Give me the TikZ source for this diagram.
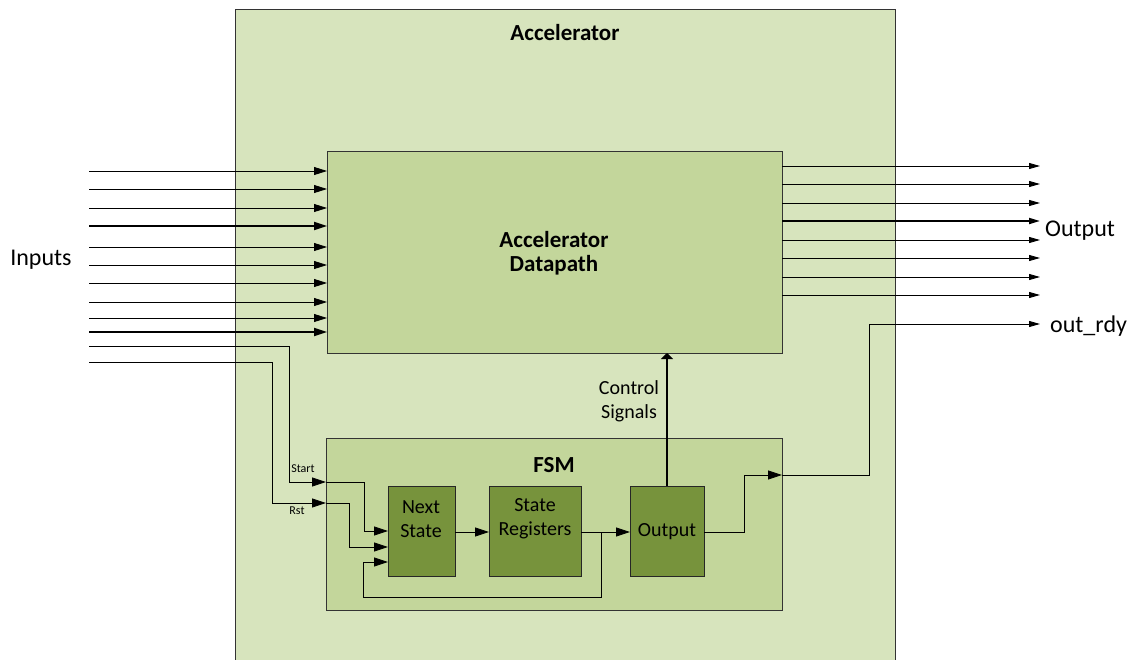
\documentclass[tikz,border=0pt]{standalone}
\usepackage{fontspec}
\setmainfont{Carlito}
\usetikzlibrary{arrows.meta}
\definecolor{outerg}{HTML}{D7E4BD}
\definecolor{midg}{HTML}{C3D69B}
\definecolor{darkg}{HTML}{77933C}
\begin{document}
\begin{tikzpicture}[x=1pt,y=-1pt,
 accbox/.style={draw=black!80, fill=outerg, line width=0.8pt, anchor=north west, inner sep=0pt, outer sep=0pt},
 midbox/.style={draw=black!80, fill=midg, line width=0.8pt, anchor=north west, inner sep=0pt, outer sep=0pt},
 regbox/.style={draw=black!85, fill=darkg, line width=0.8pt, anchor=north west, inner sep=0pt, outer sep=0pt},
 wire/.style={line width=0.8pt},
 bus/.style={line width=1.8pt},
 inarr/.style={-{Triangle[length=13pt,width=8pt]}},
 outarr/.style={-{Triangle[length=11pt,width=6pt]}},
 fsmarr/.style={-{Triangle[length=14pt,width=9pt]}},
 ctlarr/.style={-{Triangle[length=6pt,width=12pt]}},
 lbl/.style={font=\fontsize{24}{24}\selectfont, inner sep=0pt, yshift=-2pt},
 blbl/.style={font=\fontsize{23}{24}\selectfont\bfseries, inner sep=0pt, align=center, yshift=-1pt},
 rlbl/.style={font=\fontsize{20}{24}\selectfont, inner sep=0pt, align=center},
 slbl/.style={font=\fontsize{12}{12}\selectfont, inner sep=0pt},
]
\useasboundingbox (0,0) rectangle (1130,659);
% boxes
\node[accbox, minimum width=660pt, minimum height=660pt] (acc) at (235,9) {};
\node[midbox, minimum width=455pt, minimum height=202pt] (dp) at (327,151) {};
\node[midbox, minimum width=456pt, minimum height=172pt] (fsm) at (326,438) {};
\node[regbox, minimum width=67pt, minimum height=90pt] (ns) at (388,486) {};
\node[regbox, minimum width=92pt, minimum height=90pt] (sr) at (489,486) {};
\node[regbox, minimum width=74pt, minimum height=90pt] (ob) at (630,486) {};
% labels
\node[blbl] (tacc) at (565,32) {Accelerator};
\node[blbl] (tdp) at (554,252) {Accelerator\\Datapath};
\node[blbl] (tfsm) at (554,464) {FSM};
\node[rlbl] (tns) at (421,519) {Next\\State};
\node[rlbl] (tsr) at (535,519) {State\\Registers};
\node[rlbl] (tob) at (667,532) {Output};
\node[lbl] (tin) at (41,258) {Inputs};
\node[lbl, anchor=west] (tout) at (1045,229) {Output};
\node[lbl, anchor=west] (trdy) at (1050,324) {out\_rdy};
\node[rlbl] (tctl) at (629,401) {Control\\Signals};
\node[slbl] (tstart) at (303,469) {Start};
\node[slbl] (trst) at (297,511) {Rst};
% inputs
\foreach \y/\n in {171/1,189/2,208/3,247/5,265/6,283/7,302/8,318/9}{
  \coordinate (in\n) at (89,\y);
  \draw[wire,inarr] (in\n) -- (in\n -| dp.west);
}
\foreach \y/\n in {226/4,332/10}{
  \coordinate (in\n) at (89,\y);
  \draw[bus,inarr] (in\n) -- (in\n -| dp.west);
}
% outputs
\foreach \y/\n in {166/1,184/2,203/3,240/5,258/6,277/7,295/8}{
  \coordinate (oe\n) at (1040,\y);
  \draw[wire,outarr] (oe\n -| dp.east) -- (oe\n);
}
\coordinate (oe4) at (1040,221);
\draw[bus,outarr] (oe4 -| dp.east) -- (oe4);
% start / rst
\coordinate (st0) at (89,346);
\coordinate (st1) at (289,482);
\coordinate (st2) at (364,531);
\draw[wire,fsmarr] (st0) -- (st0 -| st1) -- (st1) -- (st1 -| fsm.west);
\draw[wire,fsmarr] (st1 -| fsm.west) -- (st1 -| st2) -- (st2) -- (st2 -| ns.west);
\coordinate (rs0) at (89,362);
\coordinate (rs1) at (272,503);
\coordinate (rs2) at (349,547);
\draw[wire,fsmarr] (rs0) -- (rs0 -| rs1) -- (rs1) -- (rs1 -| fsm.west);
\draw[wire,fsmarr] (rs1 -| fsm.west) -- (rs1 -| rs2) -- (rs2) -- (rs2 -| ns.west);
% internal
\coordinate (m1) at (470,532);
\draw[wire,fsmarr] (m1 -| ns.east) -- (m1 -| sr.west);
\draw[wire,fsmarr] (m1 -| sr.east) -- (m1 -| ob.west);
\coordinate (fb1) at (601,597);
\coordinate (fb2) at (363,562);
\draw[wire,fsmarr] (m1 -| fb1) -- (fb1) -- (fb1 -| fb2) -- (fb2) -- (fb2 -| ns.west);
% output to out_rdy
\coordinate (r1) at (744,475);
\coordinate (r2) at (869,324);
\draw[wire,fsmarr] (m1 -| ob.east) -- (m1 -| r1) -- (r1) -- (r1 -| fsm.east);
\draw[wire,outarr] (r1 -| fsm.east) -- (r1 -| r2) -- (r2) -- (r2 -| oe1);
% control signals
\draw[line width=1.2pt,ctlarr] (ob.north) -- (ob.north |- dp.south);
\end{tikzpicture}
\end{document}
